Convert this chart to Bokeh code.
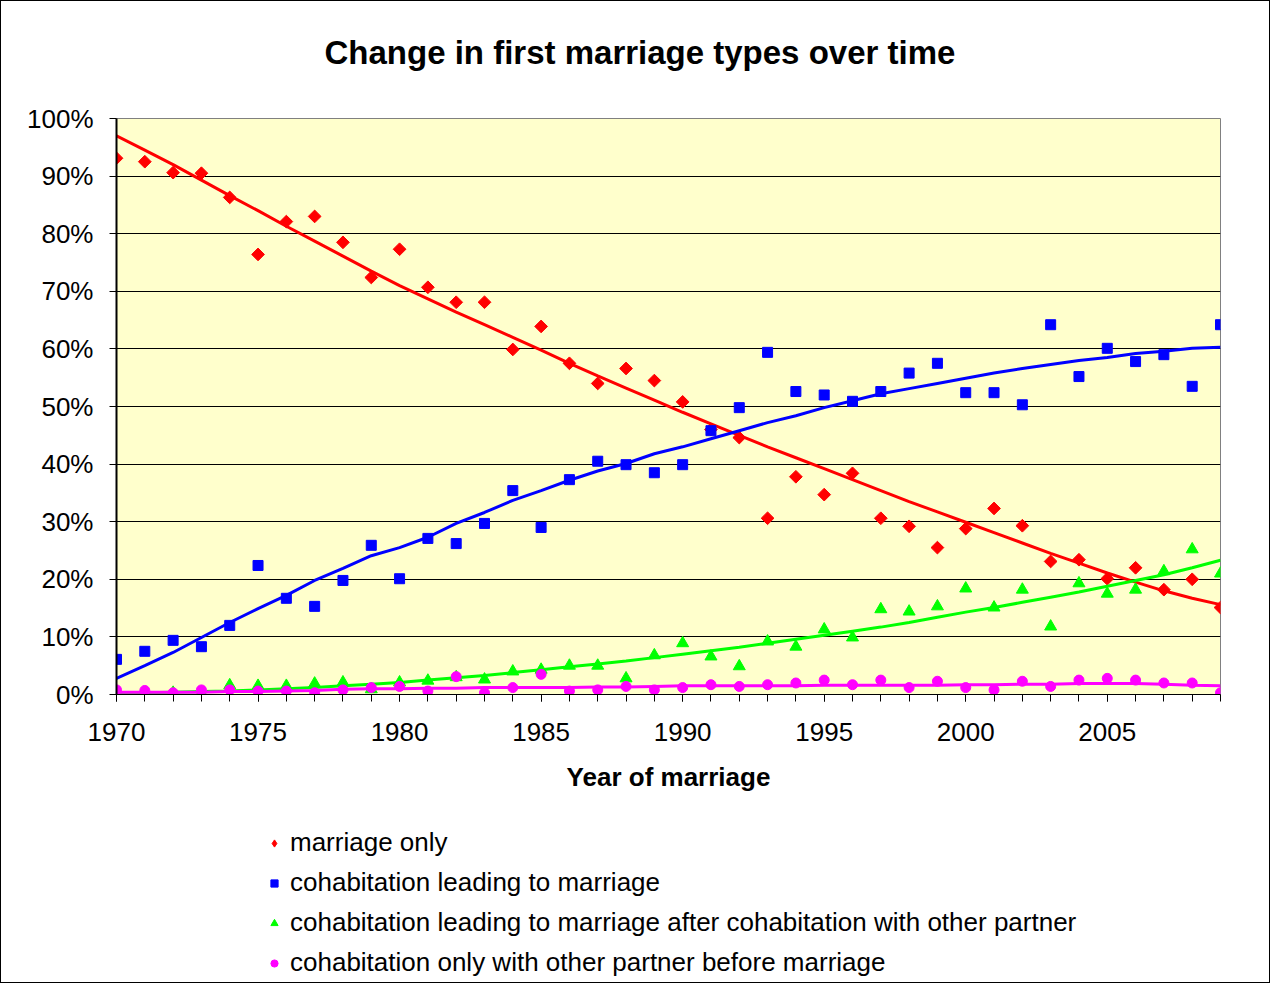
import math
from bokeh.plotting import figure
from bokeh.layouts import column
from bokeh.models import (Legend, LegendItem, PrintfTickFormatter, SingleIntervalTicker,
                          FixedTicker, Range1d, ColumnDataSource)
from bokeh.embed import file_html
from bokeh.resources import INLINE

years = [1970, 1971, 1972, 1973, 1974, 1975, 1976, 1977, 1978, 1979,
         1980, 1981, 1982, 1983, 1984, 1985, 1986, 1987, 1988, 1989,
         1990, 1991, 1992, 1993, 1994, 1995, 1996, 1997, 1998, 1999,
         2000, 2001, 2002, 2003, 2004, 2005, 2006, 2007, 2008, 2009]

marriage_only = [93.1, 92.5, 90.6, 90.5, 86.3, 76.4, 82.1, 83.0, 78.5, 72.4,
                 77.3, 70.7, 68.1, 68.1, 59.9, 63.9, 57.5, 54.0, 56.6, 54.5,
                 50.8, 46.0, 44.6, 30.6, 37.8, 34.7, 38.4, 30.6, 29.2, 25.5,
                 28.8, 32.3, 29.3, 23.1, 23.4, 20.1, 22.0, 18.2, 20.0, 15.1]
marriage_only_trend = [97.0, 94.5, 92.0, 89.3, 86.6, 84.0, 81.3, 78.7, 76.1, 73.5,
                       71.0, 68.7, 66.4, 64.2, 62.0, 59.8, 57.5, 55.3, 53.2, 51.1,
                       49.0, 47.0, 45.0, 43.0, 41.1, 39.2, 37.3, 35.4, 33.5, 31.7,
                       29.9, 28.1, 26.3, 24.5, 22.8, 21.1, 19.5, 18.0, 16.7, 15.6]

cohab_marriage = [6.1, 7.5, 9.4, 8.3, 12.0, 22.4, 16.7, 15.3, 19.8, 25.9,
                  20.1, 27.1, 26.2, 29.7, 35.4, 29.0, 37.3, 40.5, 39.9, 38.5,
                  39.9, 45.8, 49.8, 59.4, 52.6, 52.0, 50.9, 52.6, 55.8, 57.5,
                  52.4, 52.4, 50.3, 64.2, 55.2, 60.1, 57.8, 59.0, 53.5, 64.2]
cohab_marriage_trend = [2.8, 5.0, 7.3, 9.9, 12.5, 14.9, 17.2, 19.8, 21.9, 24.1,
                        25.5, 27.3, 29.7, 31.6, 33.7, 35.4, 37.2, 38.8, 40.1, 41.8,
                        43.0, 44.4, 45.8, 47.2, 48.4, 49.8, 51.0, 52.2, 53.1, 54.0,
                        54.9, 55.8, 56.6, 57.3, 58.0, 58.5, 59.2, 59.6, 60.1, 60.3]

cohab_after_other = [0.2, 0.0, 0.3, 0.3, 1.6, 1.5, 1.5, 1.9, 2.1, 0.9,
                     2.1, 2.4, 3.0, 2.6, 4.0, 4.3, 5.0, 5.0, 2.8, 6.8,
                     8.9, 6.6, 4.9, 9.2, 8.3, 11.3, 9.9, 14.8, 14.4, 15.3,
                     18.4, 15.1, 18.2, 11.8, 19.3, 17.5, 18.2, 21.4, 25.2, 21.0]
cohab_after_other_trend = [0.3, 0.3, 0.4, 0.5, 0.6, 0.8, 1.0, 1.2, 1.5, 1.8,
                           2.1, 2.5, 2.9, 3.3, 3.8, 4.3, 4.8, 5.3, 5.8, 6.4,
                           7.0, 7.6, 8.2, 8.9, 9.6, 10.3, 11.0, 11.7, 12.5, 13.4,
                           14.3, 15.1, 16.0, 16.9, 17.8, 18.8, 19.8, 20.8, 22.0, 23.3]

cohab_only_other = [0.8, 0.7, 0.3, 0.8, 0.8, 0.6, 0.6, 0.3, 0.8, 1.2,
                    1.4, 0.6, 3.1, 0.3, 1.2, 3.5, 0.6, 0.8, 1.4, 0.8,
                    1.2, 1.7, 1.4, 1.7, 2.0, 2.5, 1.7, 2.5, 1.2, 2.3,
                    1.2, 0.8, 2.3, 1.4, 2.5, 2.8, 2.5, 2.0, 2.0, 0.3]
cohab_only_other_trend = [0.4, 0.4, 0.4, 0.4, 0.5, 0.5, 0.6, 0.7, 0.9, 1.0,
                          1.0, 1.1, 1.1, 1.2, 1.2, 1.2, 1.2, 1.3, 1.3, 1.4,
                          1.5, 1.5, 1.5, 1.5, 1.5, 1.6, 1.6, 1.6, 1.6, 1.6,
                          1.7, 1.7, 1.8, 1.8, 1.9, 1.9, 1.9, 1.8, 1.6, 1.5]

labels = ["marriage only",
          "cohabitation leading to marriage",
          "cohabitation leading to marriage after cohabitation with other partner",
          "cohabitation only with other partner before marriage"]

FONT = "Liberation Sans"


def blank(fig):
    fig.axis.visible = False
    fig.grid.visible = False
    fig.outline_line_color = None
    fig.background_fill_color = "white"
    fig.border_fill_color = "white"


# Title strip
tf = figure(width=1268, height=100, output_backend="svg", toolbar_location=None,
            x_range=Range1d(0, 1), y_range=Range1d(0, 1),
            min_border_left=115, min_border_right=49, min_border_top=0,
            min_border_bottom=0, title="Change in first marriage types over time")
blank(tf)
tf.title.text_font = FONT
tf.title.text_font_size = "33px"
tf.title.text_font_style = "bold"
tf.title.text_color = "black"
tf.title.align = "left"
tf.title.offset = 208
tf.title.standoff = 60

# Main chart
p = figure(width=1268, height=700, output_backend="svg", toolbar_location=None,
           x_range=Range1d(1970, 2009), y_range=Range1d(0, 100),
           min_border_left=115, min_border_right=49, min_border_top=17,
           min_border_bottom=107)

p.background_fill_color = "#FFFFCC"
p.border_fill_color = "white"
p.outline_line_color = "#808080"
p.outline_line_width = 1

p.xgrid.grid_line_color = None
p.ygrid.grid_line_color = "black"
p.ygrid.grid_line_width = 1
p.ygrid.ticker = FixedTicker(ticks=[10, 20, 30, 40, 50, 60, 70, 80, 90])

p.yaxis.ticker = FixedTicker(ticks=[0, 10, 20, 30, 40, 50, 60, 70, 80, 90, 100])
p.yaxis.formatter = PrintfTickFormatter(format="%d%%")
p.xaxis.ticker = SingleIntervalTicker(interval=5, num_minor_ticks=5)

for ax in (p.xaxis, p.yaxis):
    ax.major_label_text_font = FONT
    ax.major_label_text_font_size = "26px"
    ax.major_label_text_color = "black"
    ax.axis_line_color = "black"
    ax.axis_line_width = 1
    ax.major_tick_line_color = "black"
    ax.minor_tick_line_color = "black"
    ax.major_tick_in = 0
    ax.major_tick_out = 7
    ax.minor_tick_in = 0
    ax.minor_tick_out = 0

p.yaxis.axis_line_width = 2
p.xaxis.minor_tick_out = 7
p.yaxis.major_label_standoff = 16
p.xaxis.major_label_standoff = 21
p.xaxis.axis_label = "Year of marriage"
p.xaxis.axis_label_text_font = FONT
p.xaxis.axis_label_text_font_size = "26px"
p.xaxis.axis_label_text_font_style = "bold"
p.xaxis.axis_label_text_color = "black"
p.xaxis.axis_label_standoff = 18

src = ColumnDataSource(dict(
    year=years,
    m=marriage_only, mt=marriage_only_trend,
    c=cohab_marriage, ct=cohab_marriage_trend,
    a=cohab_after_other, at=cohab_after_other_trend,
    o=cohab_only_other, ot=cohab_only_other_trend,
))

# (value column, trend column, colour, marker, size, angle)
series = [
    ("m", "mt", "#FF0000", "square", 9, math.pi / 4),
    ("c", "ct", "#0000FF", "square", 10, 0.0),
    ("a", "at", "#00FF00", "triangle", 12, 0.0),
    ("o", "ot", "#FF00FF", "circle", 10, 0.0),
]

for col, tcol, color, marker, size, ang in series:
    p.line("year", tcol, source=src, line_color=color, line_width=3)
    p.scatter("year", col, source=src, marker=marker, size=size, angle=ang,
              fill_color=color, line_color=color)

# Legend strip below the chart
lg = figure(width=1268, height=181, output_backend="svg", toolbar_location=None,
            x_range=Range1d(0, 1), y_range=Range1d(0, 1),
            min_border_left=0, min_border_right=0, min_border_top=0,
            min_border_bottom=0)
blank(lg)

legend_markers = [("diamond", "#FF0000"), ("square", "#0000FF"),
                  ("triangle", "#00FF00"), ("circle", "#FF00FF")]
items = []
for (mk, color), lab in zip(legend_markers, labels):
    r = lg.scatter(x=[-10], y=[-10], marker=mk, size=8,
                   fill_color=color, line_color=color)
    items.append(LegendItem(label=lab, renderers=[r]))

legend = Legend(items=items, location=(149, 4), orientation="vertical",
                label_text_font=FONT, label_text_font_size="26px",
                label_text_color="black", glyph_width=18, glyph_height=30,
                label_height=30, label_standoff=7, spacing=9,
                padding=0, margin=0, border_line_color=None,
                background_fill_alpha=0)
lg.add_layout(legend, "center")

layout = column(tf, p, lg, spacing=0)
layout.styles = {"border": "1px solid black"}

open("out.html", "w").write(file_html(layout, INLINE))
